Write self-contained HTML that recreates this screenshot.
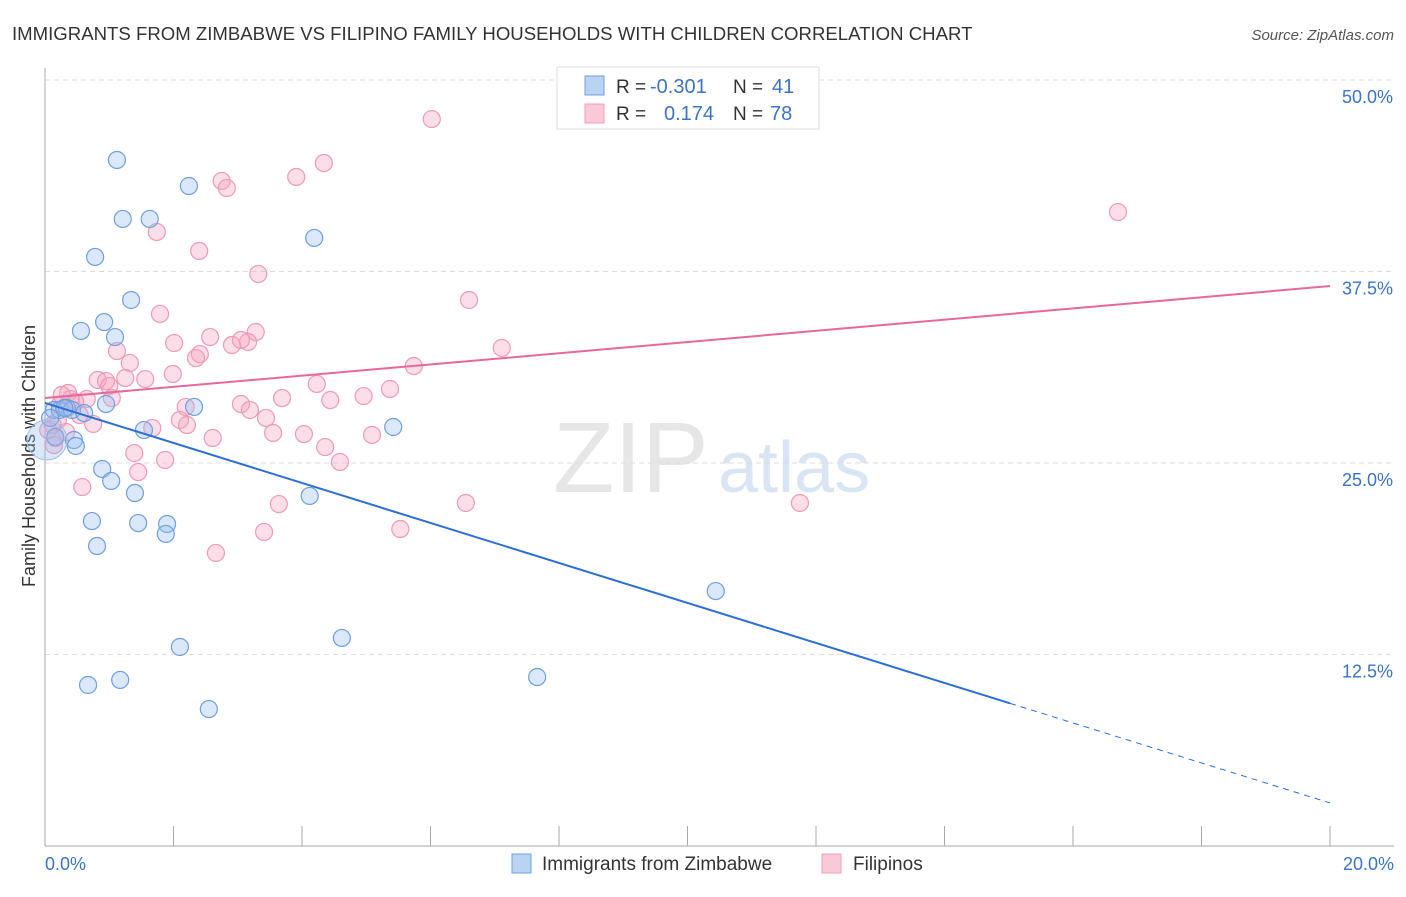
<!DOCTYPE html>
<html><head><meta charset="utf-8"><style>
body{margin:0;background:#fff;font-family:"Liberation Sans",sans-serif;}
svg text{font-family:"Liberation Sans",sans-serif;}
</style></head><body>
<svg id="c" width="1406" height="892" xmlns="http://www.w3.org/2000/svg">
<text x="12" y="40" font-size="18.6" fill="#333">IMMIGRANTS FROM ZIMBABWE VS FILIPINO FAMILY HOUSEHOLDS WITH CHILDREN CORRELATION CHART</text>
<text x="1394" y="40" font-size="15" fill="#555" font-style="italic" text-anchor="end">Source: ZipAtlas.com</text>
<text x="35" y="456" font-size="18" fill="#333" text-anchor="middle" transform="rotate(-90 35 456)">Family Households with Children</text>
<text x="553" y="492" font-size="100" fill="#e6e6e6" font-family="Liberation Serif">ZIP</text>
<text x="718" y="492" font-size="72" fill="#d9e5f4">atlas</text>
<g id="grid"></g><g id="axes"></g><g id="pts"></g><g id="lines"></g>
<g>
<rect x="557" y="67" width="262" height="62" fill="#fff" stroke="#ddd"/>
<rect x="585" y="76" width="19" height="19" fill="#b9d3f3" stroke="#6fa0e0"/>
<rect x="585" y="104" width="19" height="19" fill="#f9c9d8" stroke="#eea0b8"/>
<text x="616" y="93" font-size="19" fill="#333">R =</text>
<text x="650" y="93" font-size="20" fill="#3b73c8">-0.301</text>
<text x="733" y="93" font-size="19" fill="#333">N =</text>
<text x="772" y="93" font-size="20" fill="#3b73c8">41</text>
<text x="616" y="120" font-size="19" fill="#333">R =</text>
<text x="664" y="120" font-size="20" fill="#3b73c8">0.174</text>
<text x="733" y="120" font-size="19" fill="#333">N =</text>
<text x="770" y="120" font-size="20" fill="#3b73c8">78</text>
</g>
<g>
<rect x="512" y="854" width="19" height="19" fill="#b9d3f3" stroke="#6fa0e0"/>
<text x="542" y="870" font-size="19" fill="#333">Immigrants from Zimbabwe</text>
<rect x="822" y="854" width="19" height="19" fill="#f9c9d8" stroke="#eea0b8"/>
<text x="853" y="870" font-size="19" fill="#333">Filipinos</text>
</g>
</svg>
<script>
const yTicks=[12.5,25,37.5,50];
const yTickLabels=["12.5%","25.0%","37.5%","50.0%"];
const xTickLabels=["0.0%","20.0%"];
const blueX=[1.12,2.24,1.21,1.63,4.19,0.78,1.34,0.56,0.92,1.09,0.14,0.23,0.34,0.42,0.61,0.95,2.32,1.54,5.42,0.45,0.48,0.89,1.03,1.40,4.12,0.73,1.45,1.90,1.88,0.81,10.44,4.62,2.10,0.67,1.17,7.66,2.55,0.16,0.30,0.08];
const blueY=[44.78,43.08,40.93,40.93,39.69,38.45,35.64,33.62,34.20,33.22,28.46,28.46,28.59,28.46,28.26,28.85,28.66,27.15,27.35,26.50,26.11,24.61,23.83,23.04,22.85,21.21,21.08,21.02,20.37,19.58,16.64,13.58,12.99,10.51,10.84,11.03,8.94,26.70,28.59,27.94];
const pinkX=[6.02,4.34,3.91,2.75,2.83,16.70,1.74,2.40,3.32,6.60,1.79,3.28,2.57,2.01,2.91,3.16,3.05,7.11,1.12,2.41,2.35,1.32,1.99,5.74,4.23,5.37,0.82,0.95,1.25,1.56,1.00,0.36,0.40,1.04,0.65,3.05,3.69,4.44,4.96,3.19,2.19,2.10,1.67,3.44,4.03,3.55,2.61,5.09,2.21,0.33,0.12,0.16,0.75,1.39,1.87,4.59,1.45,4.36,0.58,3.64,6.55,11.75,3.41,5.53,2.66,0.23,0.47,0.20,0.14,0.05,0.26,0.54];
const pinkY=[47.45,44.58,43.67,43.41,42.95,41.38,40.08,38.84,37.34,35.64,34.73,33.55,33.22,32.83,32.70,32.90,33.03,32.51,32.31,32.11,31.85,31.53,30.81,31.33,30.16,29.83,30.42,30.35,30.55,30.48,30.03,29.57,29.18,29.24,29.18,28.85,29.24,29.11,29.37,28.46,28.66,27.81,27.28,27.94,26.89,26.96,26.63,26.83,27.48,27.02,27.48,26.63,27.55,25.65,25.20,25.07,24.41,26.04,23.43,22.32,22.39,22.39,20.50,20.69,19.13,28.79,28.98,27.81,26.17,27.15,29.44,28.13];
const blueTrend=[28.92,2.81];
const pinkTrend=[29.24,36.55];
const blueSolidEnd=15.02;
const NS="http://www.w3.org/2000/svg";
const sx=v=>45+v*64.25, sy=v=>846-v*15.32;
function mk(t,a,p){const e=document.createElementNS(NS,t);for(const k in a)e.setAttribute(k,a[k]);p.appendChild(e);return e;}
const grid=document.getElementById('grid'),axes=document.getElementById('axes'),pts=document.getElementById('pts'),lines=document.getElementById('lines');
yTicks.forEach((t,i)=>{
 const l=mk('line',{x1:45,x2:1394,y1:sy(t),y2:sy(t),stroke:'#ddd','stroke-dasharray':'5,4'},grid);
 
 
 const tx=mk('text',{x:1393,y:sy(t)+23,'font-size':18,fill:'#3b73c8','text-anchor':'end'},axes);
 tx.textContent=yTickLabels[i];
 
 
});
const ax=mk('line',{x1:45,x2:45,y1:68,y2:846,stroke:'#aaa'},axes);


const bx=mk('line',{x1:45,x2:1394,y1:846,y2:846,stroke:'#aaa'},axes);


for(let i=0;i<=10;i++){const t=mk('line',{x1:sx(i*2),x2:sx(i*2),y1:826,y2:846,stroke:'#aaa'},axes);
 
 }
[[0,'start',45],[20,'end',1394]].forEach((d,i)=>{const t=mk('text',{x:d[2],y:870,'font-size':18,fill:'#3b73c8','text-anchor':d[1]},axes);t.textContent=xTickLabels[i];
 
 });
pinkX.forEach((x,i)=>{const c=mk('circle',{cx:sx(x),cy:sy(pinkY[i]),r:8.5,fill:'rgba(244,160,188,0.35)',stroke:'#ee9ab5','stroke-width':1.2},pts);
 
 });
blueX.forEach((x,i)=>{const c=mk('circle',{cx:sx(x),cy:sy(blueY[i]),r:8.5,fill:'rgba(150,190,240,0.35)',stroke:'#6e9fe0','stroke-width':1.2},pts);
 
 });
const big=mk('circle',{cx:sx(0.03),cy:sy(26.5),r:20,fill:'rgba(150,190,240,0.35)',stroke:'#9ebfe8'},pts);


const by=x=>blueTrend[0]+(blueTrend[1]-blueTrend[0])*x/20;
const b1=mk('line',{x1:sx(0),y1:sy(by(0)),x2:sx(blueSolidEnd),y2:sy(by(blueSolidEnd)),stroke:'#2d6fd6','stroke-width':2},lines);


const b2=mk('line',{x1:sx(blueSolidEnd),y1:sy(by(blueSolidEnd)),x2:sx(20),y2:sy(by(20)),stroke:'#2d6fd6','stroke-width':1,'stroke-dasharray':'6,5'},lines);


const p1=mk('line',{x1:sx(0),y1:sy(pinkTrend[0]),x2:sx(20),y2:sy(pinkTrend[1]),stroke:'#e8689a','stroke-width':2},lines);


</script>
</body></html>
